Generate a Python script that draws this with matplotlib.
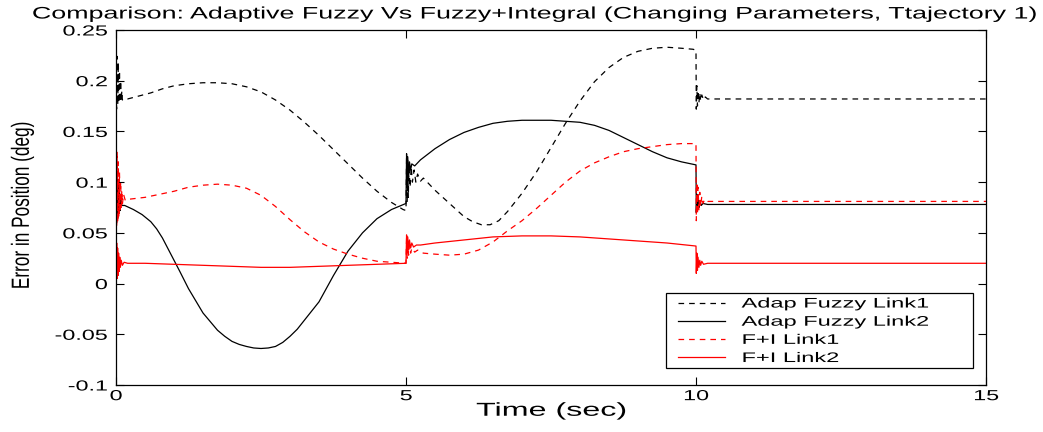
import matplotlib
matplotlib.use("Agg")
import matplotlib.pyplot as plt
from matplotlib.lines import Line2D
from matplotlib.legend_handler import HandlerLine2D
from matplotlib.patheffects import AbstractPathEffect
from matplotlib.transforms import Affine2D

# ---------------------------------------------------------------- data
# Adaptive fuzzy controller, link 1 position error (deg)
t_af1 = [0.0, 0.01, 0.02, 0.03, 0.04, 0.05, 0.06, 0.07, 0.08, 0.09, 0.10, 0.11, 0.12,
         0.2, 0.4, 0.6, 0.8, 1.0, 1.25, 1.5, 1.75, 2.0, 2.25, 2.5, 2.75, 3.0, 3.25,
         3.5, 3.75, 4.0, 4.25, 4.5, 4.75, 4.95, 5.0,
         5.01, 5.02, 5.03, 5.04, 5.05, 5.07, 5.09, 5.11, 5.14, 5.17, 5.2, 5.25, 5.3, 5.4,
         5.5, 5.75, 6.0, 6.15, 6.3, 6.45, 6.6, 6.75, 7.0, 7.25, 7.5, 7.75, 8.0, 8.25, 8.5,
         8.75, 9.0, 9.25, 9.5, 9.75, 9.95, 10.0,
         10.005, 10.015, 10.025, 10.035, 10.05, 10.065, 10.08, 10.1, 10.13, 10.16, 10.2, 15.0]
e_af1 = [0.228, 0.172, 0.224, 0.176, 0.218, 0.178, 0.210, 0.179, 0.200, 0.180, 0.190, 0.181, 0.182,
         0.182, 0.185, 0.188, 0.192, 0.195, 0.197, 0.198, 0.198, 0.197, 0.194, 0.189, 0.181, 0.171, 0.159,
         0.146, 0.132, 0.118, 0.104, 0.091, 0.080, 0.073, 0.072,
         0.125, 0.080, 0.122, 0.085, 0.118, 0.095, 0.115, 0.100, 0.112, 0.100, 0.108, 0.101, 0.104, 0.098,
         0.092, 0.079, 0.066, 0.061, 0.058, 0.058, 0.062, 0.071, 0.089, 0.110, 0.134, 0.158, 0.180, 0.199, 0.213,
         0.223, 0.229, 0.232, 0.233, 0.232, 0.231, 0.230,
         0.172, 0.195, 0.175, 0.190, 0.178, 0.188, 0.180, 0.186, 0.181, 0.184, 0.182, 0.182]

# Adaptive fuzzy controller, link 2 position error (deg)
t_af2 = [0.0, 0.01, 0.02, 0.03, 0.04, 0.05, 0.06, 0.07, 0.08, 0.10, 0.15,
         0.3, 0.45, 0.6, 0.7, 0.8, 0.9, 1.0, 1.1, 1.25, 1.5, 1.75, 1.875, 2.0, 2.125, 2.25,
         2.375, 2.5, 2.625, 2.75, 2.875, 3.0, 3.125, 3.25, 3.5, 3.75, 4.0, 4.25, 4.5, 4.75, 5.0,
         5.01, 5.02, 5.03, 5.045, 5.06, 5.08, 5.1, 5.15,
         5.25, 5.5, 5.75, 6.0, 6.25, 6.5, 6.75, 7.0, 7.5, 8.0, 8.25, 8.5, 8.75, 9.0, 9.25,
         9.5, 9.75, 10.0,
         10.005, 10.015, 10.025, 10.04, 10.055, 10.07, 10.09, 10.12, 10.2, 15.0]
e_af2 = [0.120, 0.060, 0.110, 0.065, 0.100, 0.070, 0.090, 0.072, 0.085, 0.077, 0.077,
         0.073, 0.068, 0.061, 0.054, 0.045, 0.034, 0.023, 0.012, -0.005, -0.029, -0.046, -0.052, -0.057, -0.060, -0.062,
         -0.0635, -0.064, -0.0635, -0.062, -0.058, -0.052, -0.045, -0.036, -0.018, 0.008, 0.032, 0.050, 0.064, 0.073, 0.079,
         0.128, 0.095, 0.125, 0.105, 0.120, 0.112, 0.118, 0.116,
         0.122, 0.133, 0.142, 0.149, 0.154, 0.158, 0.160, 0.161, 0.161, 0.159, 0.156, 0.151, 0.144, 0.137, 0.130,
         0.124, 0.120, 0.117,
         0.070, 0.088, 0.072, 0.084, 0.075, 0.081, 0.077, 0.079, 0.078, 0.078]

# Fuzzy + integral controller, link 1 position error (deg)
t_fi1 = [0.0, 0.01, 0.02, 0.03, 0.04, 0.05, 0.06, 0.07, 0.08, 0.09, 0.10, 0.11, 0.13, 0.16, 0.2,
         0.5, 0.75, 1.0, 1.25, 1.5, 1.75, 2.0, 2.25, 2.5, 2.75, 3.0, 3.25, 3.5, 3.75,
         4.0, 4.25, 4.5, 4.75, 5.0,
         5.01, 5.02, 5.03, 5.045, 5.06, 5.08, 5.1, 5.15, 5.2, 5.3,
         5.5, 5.75, 6.0, 6.25, 6.5, 6.75, 7.0, 7.25, 7.5, 7.75, 8.0, 8.25, 8.5, 8.75,
         9.0, 9.25, 9.5, 9.75, 10.0,
         10.005, 10.015, 10.025, 10.035, 10.05, 10.065, 10.08, 10.1, 10.12, 10.15, 10.2, 15.0]
e_fi1 = [0.137, 0.055, 0.130, 0.060, 0.120, 0.065, 0.110, 0.070, 0.100, 0.075, 0.092, 0.078, 0.088, 0.082, 0.083,
         0.085, 0.088, 0.091, 0.095, 0.097, 0.098, 0.097, 0.094, 0.087, 0.076, 0.063, 0.051, 0.041, 0.034,
         0.029, 0.025, 0.022, 0.021, 0.020,
         0.045, 0.025, 0.042, 0.028, 0.038, 0.030, 0.035, 0.031, 0.033, 0.030,
         0.029, 0.028, 0.029, 0.033, 0.041, 0.052, 0.062, 0.074, 0.087, 0.100, 0.111, 0.119, 0.125, 0.130,
         0.133, 0.135, 0.137, 0.138, 0.138,
         0.062, 0.100, 0.068, 0.095, 0.072, 0.090, 0.076, 0.086, 0.079, 0.083, 0.081, 0.081]

# Fuzzy + integral controller, link 2 position error (deg)
t_fi2 = [0.0, 0.005, 0.012, 0.02, 0.028, 0.036, 0.045, 0.055, 0.065, 0.075, 0.09, 0.11, 0.14, 0.2,
         0.5, 1.0, 1.5, 2.0, 2.5, 3.0, 3.5, 4.0, 4.5, 5.0,
         5.01, 5.02, 5.03, 5.045, 5.06, 5.08, 5.1, 5.13, 5.18, 5.25,
         5.5, 6.0, 6.5, 7.0, 7.5, 8.0, 8.5, 9.0, 9.5, 10.0,
         10.005, 10.015, 10.025, 10.035, 10.05, 10.065, 10.08, 10.1, 10.13, 10.2, 15.0]
e_fi2 = [0.045, 0.002, 0.040, 0.005, 0.035, 0.008, 0.030, 0.012, 0.026, 0.016, 0.023, 0.018, 0.021, 0.020,
         0.020, 0.019, 0.018, 0.017, 0.016, 0.016, 0.017, 0.018, 0.019, 0.020,
         0.048, 0.030, 0.046, 0.033, 0.043, 0.035, 0.040, 0.036, 0.038, 0.038,
         0.040, 0.043, 0.046, 0.047, 0.047, 0.046, 0.044, 0.042, 0.040, 0.037,
         0.010, 0.030, 0.013, 0.026, 0.016, 0.023, 0.018, 0.022, 0.019, 0.020, 0.020]

series_labels = ["Adap Fuzzy Link1", "Adap Fuzzy Link2", "F+I Link1", "F+I Link2"]

x_ticks = [0, 5, 10, 15]
x_tick_labels = ["0", "5", "10", "15"]
y_ticks = [-0.1, -0.05, 0, 0.05, 0.1, 0.15, 0.2, 0.25]
y_tick_labels = ["-0.1", "-0.05", "0", "0.05", "0.1", "0.15", "0.2", "0.25"]

title_text = "Comparison: Adaptive Fuzzy Vs Fuzzy+Integral (Changing Parameters, Ttajectory 1)"
x_label = "Time (sec)"
y_label = "Error in Position (deg)"


# ---------------------------------------------------------------- helpers
class Stretch(AbstractPathEffect):
    """Draw text glyphs scaled anisotropically about an anchor of the ink box."""

    def __init__(self, sx=1.0, sy=1.0, anchor="center"):
        super().__init__()
        self._sx, self._sy, self._anchor = sx, sy, anchor

    def draw_path(self, renderer, gc, tpath, affine, rgbFace=None):
        v = tpath.vertices
        if len(v) == 0:
            return
        x0, x1 = v[:, 0].min(), v[:, 0].max()
        y0, y1 = v[:, 1].min(), v[:, 1].max()
        ax0 = {"left": x0, "center": 0.5 * (x0 + x1), "right": x1}[self._anchor]
        ay0 = 0.5 * (y0 + y1)
        pre = (Affine2D().translate(-ax0, -ay0)
               .scale(self._sx, self._sy).translate(ax0, ay0))
        renderer.draw_path(gc, tpath, pre + affine, rgbFace)


plt.rcParams["font.family"] = ["Liberation Sans", "DejaVu Sans"]

W, H = 1043, 432
fig = plt.figure(figsize=(W / 100, H / 100), dpi=100)
fig.patch.set_facecolor("white")
ax = fig.add_axes([116 / W, 1 - 385 / H, 870 / W, 355 / H])

lw = 0.9
dash = (4.5, 4.0)
l1, = ax.plot(t_af1, e_af1, color="black", lw=lw, linestyle=(0, dash))
l2, = ax.plot(t_af2, e_af2, color="black", lw=lw, linestyle="-")
l3, = ax.plot(t_fi1, e_fi1, color="red", lw=lw, linestyle=(0, dash))
l4, = ax.plot(t_fi2, e_fi2, color="red", lw=lw, linestyle="-")

ax.set_xlim(0, 15)
ax.set_ylim(-0.1, 0.25)
ax.set_xticks(x_ticks, labels=x_tick_labels)
ax.set_yticks(y_ticks, labels=y_tick_labels)
ax.tick_params(direction="in", top=True, right=True, length=5.5, width=0.8,
               labelsize=10.5, colors="black")
ax.tick_params(axis="y", pad=6)
ax.tick_params(axis="x", pad=3)
for s in ax.spines.values():
    s.set_linewidth(0.9)
    s.set_color("black")

for lab in ax.get_yticklabels():
    lab.set_path_effects([Stretch(sx=1.6, anchor="right")])
for lab in ax.get_xticklabels():
    lab.set_path_effects([Stretch(sx=1.6, anchor="center")])

xl = ax.set_xlabel(x_label, fontsize=13.5)
ax.xaxis.set_label_coords(0.5, -0.05)
xl.set_path_effects([Stretch(sx=1.72, anchor="center")])

yl = ax.set_ylabel(y_label, fontsize=12.4)
ax.yaxis.set_label_coords(-0.099, 0.507)
yl.set_path_effects([Stretch(sy=1.45)])

tt = fig.text(535 / W, 1 - 14 / H, title_text, ha="center", va="center", fontsize=12)
tt.set_path_effects([Stretch(sx=1.61, anchor="center")])

leg = ax.legend([l1, l2, l3, l4], series_labels,
                loc="upper left", bbox_to_anchor=(0.632, 0.051, 0.353, 0.208),
                mode="expand", fontsize=10, fancybox=False, framealpha=1,
                edgecolor="black", borderpad=0.25, labelspacing=0.3,
                handlelength=4.0, handletextpad=1.2, borderaxespad=0,
                handler_map={Line2D: HandlerLine2D(xpad=0.65)})
leg.get_frame().set_linewidth(0.9)
for txt in leg.get_texts():
    txt.set_path_effects([Stretch(sx=1.7, anchor="left")])

fig.savefig("out.png", dpi=100, facecolor="white")
